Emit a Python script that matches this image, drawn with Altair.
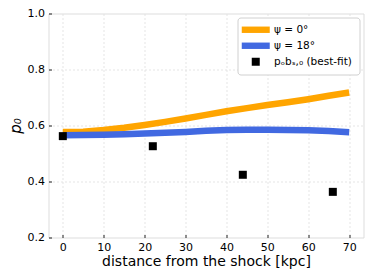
import altair as alt
import pandas as pd

# --- data ---
line_x = [0, 5, 10, 15, 20, 25, 30, 35, 40, 45, 50, 55, 60, 65, 70]
psi0_y = [0.577, 0.578, 0.584, 0.592, 0.602, 0.613, 0.625, 0.638, 0.651, 0.662,
          0.673, 0.683, 0.694, 0.706, 0.718]
psi18_y = [0.565, 0.566, 0.567, 0.569, 0.571, 0.574, 0.577, 0.581, 0.584, 0.585,
           0.585, 0.584, 0.583, 0.580, 0.576]
obs_x = [0, 22, 44, 66]
obs_y = [0.562, 0.526, 0.424, 0.363]

lab0 = "ψ = 0°"
lab18 = "ψ = 18°"
labobs = "pₒbₛ,₀ (best-fit)"
series = [lab0, lab18, labobs]
colors = ["#FFA500", "#4169E1", "#000000"]
x_ticks = [0, 10, 20, 30, 40, 50, 60, 70]
y_ticks = [0.2, 0.4, 0.6, 0.8, 1.0]

lines = pd.DataFrame({
    "x": line_x * 2,
    "y": psi0_y + psi18_y,
    "series": [lab0] * len(line_x) + [lab18] * len(line_x),
    "order": [0] * len(line_x) + [1] * len(line_x),
})
obs = pd.DataFrame({"x": obs_x, "y": obs_y, "series": [labobs] * len(obs_x)})

FONT = "DejaVu Sans"
GRID = "#dedede"

xscale = alt.Scale(domain=[-3.5, 73.5], nice=False, zero=False)
yscale = alt.Scale(domain=[0.2, 1.0], nice=False, zero=False)

xaxis = alt.Axis(values=x_ticks, title="distance from the shock [kpc]", offset=-3,
                 domain=False, tickSize=3, tickColor="#222", labelPadding=4,
                 labelFontSize=11, titleFontSize=14, titlePadding=2,
                 labelColor="#000", titleColor="#000", titleFontWeight="normal",
                 grid=True, gridColor=GRID, gridDash=[2, 2], gridWidth=0.8,
                 labelFlush=False)
yaxis = alt.Axis(values=y_ticks, title="p₀", offset=-3, format=".1f",
                 domain=False, tickSize=3, tickColor="#222", labelPadding=4,
                 labelFontSize=11, titleFontSize=15, titlePadding=4,
                 titleFontStyle="italic", titleFontWeight="normal",
                 labelColor="#000", titleColor="#000",
                 grid=True,
                 gridColor={"condition": {"test": "datum.value <= 0.21 || datum.value >= 0.99",
                                          "value": "transparent"},
                            "value": GRID},
                 gridDash=[2, 2], gridWidth=0.8,
                 labelFlush=False)

line_layer = alt.Chart(lines).mark_line(strokeWidth=6.5, strokeCap="butt").encode(
    x=alt.X("x:Q", scale=xscale, axis=xaxis),
    y=alt.Y("y:Q", scale=yscale, axis=yaxis),
    stroke=alt.Stroke("series:N", scale=alt.Scale(domain=[lab0, lab18], range=colors[:2]),
                      legend=None),
    detail="series:N",
    order="order:Q",
)

legend_opts = dict(title=None, orient="top-right", offset=4,
                   symbolSize=64, symbolOffset=6, labelOffset=13,
                   labelFontSize=10.5, labelFont=FONT,
                   labelColor="#000", rowPadding=5,
                   padding=7, strokeColor="#d0d0d0",
                   fillColor="white", cornerRadius=3,
                   symbolOpacity=1, symbolStrokeWidth=0)

bar_path = "M-3.5,-0.8H3.5V0.8H-3.5Z"
point_layer = alt.Chart(obs).mark_point(filled=True, opacity=1, size=64).encode(
    x="x:Q",
    y="y:Q",
    color=alt.Color("series:N", scale=alt.Scale(domain=series, range=colors),
                    legend=alt.Legend(**legend_opts)),
    shape=alt.Shape("series:N", scale=alt.Scale(domain=series,
                                                range=[bar_path, bar_path, "square"]),
                    legend=alt.Legend(**legend_opts)),
)

chart = alt.layer(line_layer, point_layer).properties(
    width=315, height=224,
    autosize=alt.AutoSizeParams(type="none"),
    padding={"left": 40.5, "top": 5.5, "right": 2, "bottom": 34},
).configure_view(
    stroke="#222", strokeWidth=1.2
).configure(
    font=FONT
).configure_axis(
    labelFont=FONT, titleFont=FONT
)

chart.save("out.html", embed_options={"renderer": "svg", "actions": False})
